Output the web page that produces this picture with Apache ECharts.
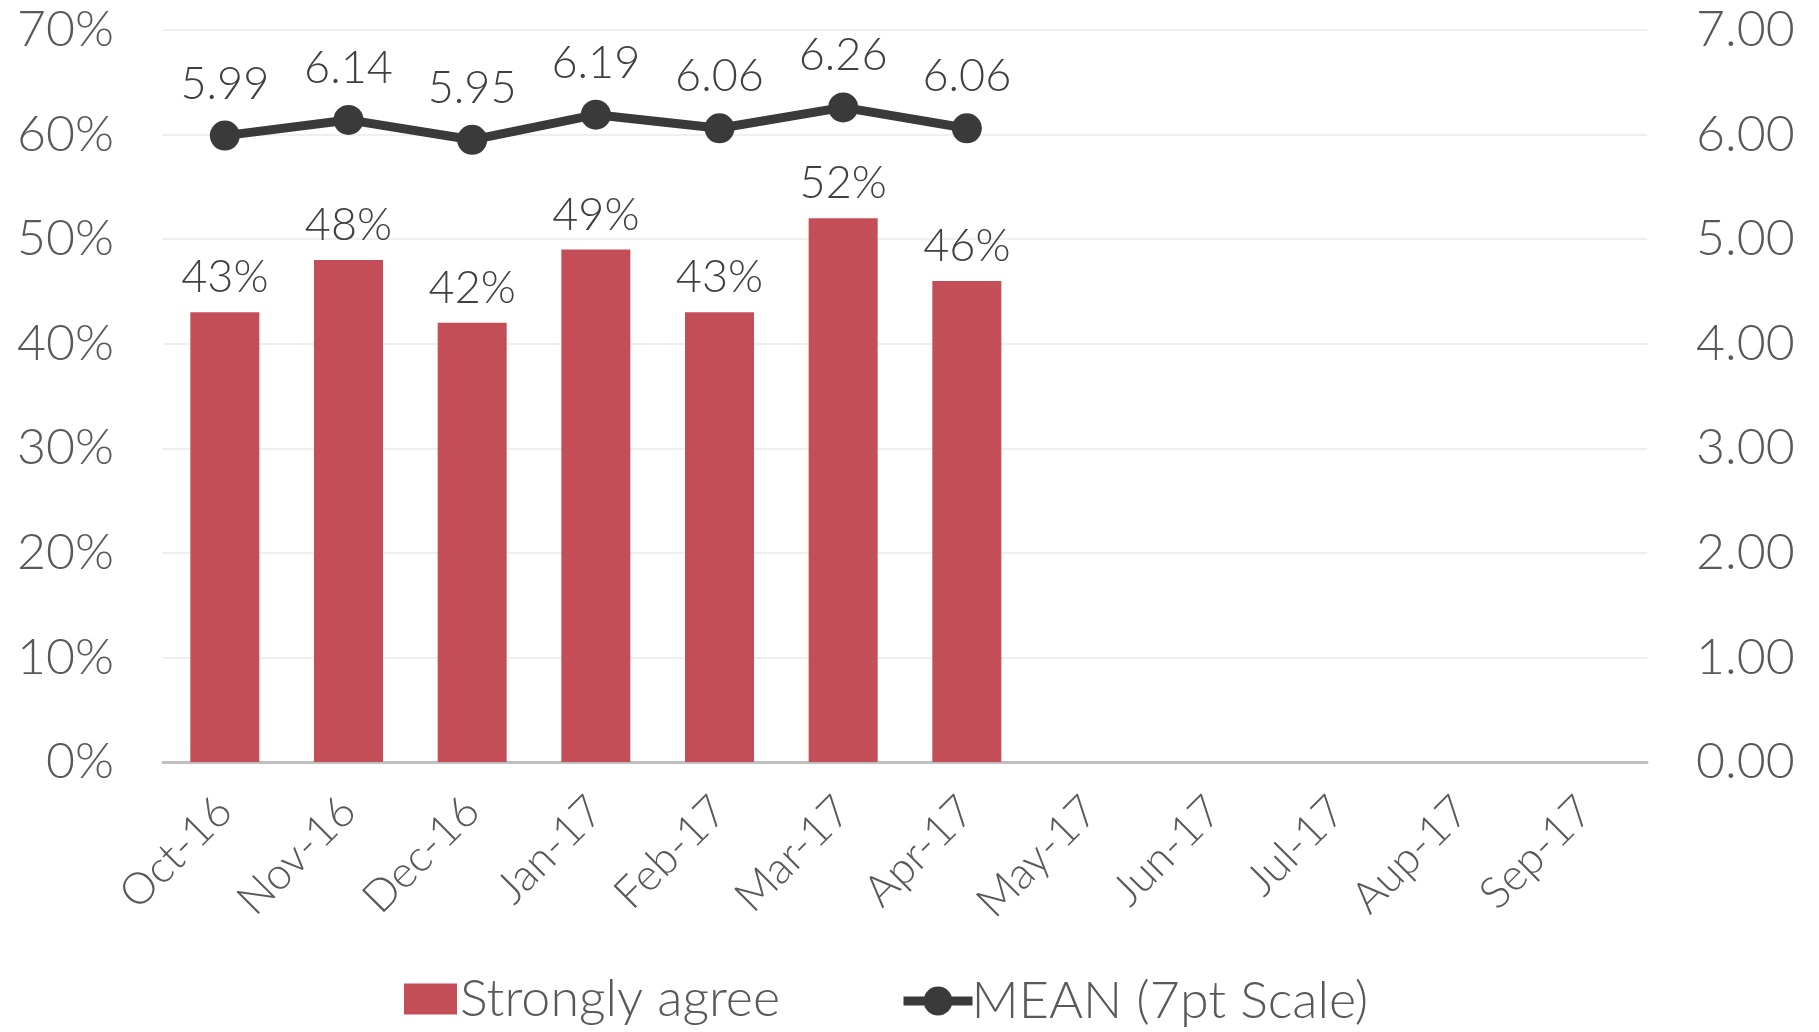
<!DOCTYPE html>
<html>
<head>
<meta charset="utf-8">
<script src="https://cdn.jsdelivr.net/npm/echarts@6/dist/echarts.min.js"></script>
<style>
  html, body { margin: 0; padding: 0; background: #ffffff; }
  #chart { width: 1819px; height: 1032px; }
</style>
</head>
<body>
<div id="chart"></div>
<script>
// Survey months (Oct-16 to Sep-17)
const months = ['Oct-16', 'Nov-16', 'Dec-16', 'Jan-17', 'Feb-17', 'Mar-17',
                'Apr-17', 'May-17', 'Jun-17', 'Jul-17', 'Aup-17', 'Sep-17'];
// Share answering "Strongly agree", in percent
const stronglyAgree = [43, 48, 42, 49, 43, 52, 46];
// Mean score on the 7-point scale
const meanScore = [5.99, 6.14, 5.95, 6.19, 6.06, 6.26, 6.06];

const FONT = 'Lato, "Open Sans", sans-serif';
const WEIGHT = 300;
const BAR_COLOR = '#c44e58';
const LINE_COLOR = '#3a3a3a';
const chart = echarts.init(document.getElementById('chart'));

const legendText = { fontFamily: FONT, fontWeight: WEIGHT, fontSize: 52, color: '#595959' };

chart.setOption({
  backgroundColor: '#ffffff',
  animation: false,
  textStyle: { fontFamily: FONT, fontWeight: WEIGHT },
  grid: { left: 163, right: 172, top: 30, bottom: 270 },
  legend: [
    {
      left: 399,
      bottom: 2,
      itemWidth: 53,
      itemHeight: 31,
      itemGap: 0,
      textStyle: Object.assign({ width: 374, padding: [0, 0, 0, -2] }, legendText),
      data: [{ name: 'Strongly agree', icon: 'rect', itemStyle: { color: BAR_COLOR } }]
    },
    {
      left: 894,
      bottom: 0,
      itemWidth: 69,
      itemHeight: 36,
      itemGap: 0,
      textStyle: Object.assign({ width: 445, padding: [0, 0, 0, -6] }, legendText),
      lineStyle: { width: 9, color: LINE_COLOR },
      data: [{ name: 'MEAN (7pt Scale)' }]
    }
  ],
  xAxis: {
    type: 'category',
    data: months,
    axisLine: { lineStyle: { color: '#bfbfbf', width: 3 } },
    axisTick: { show: false },
    axisLabel: {
      rotate: 45,
      interval: 0,
      margin: 42,
      fontSize: 44,
      color: '#595959',
      fontFamily: FONT,
      fontWeight: WEIGHT
    }
  },
  yAxis: [
    {
      type: 'value',
      min: 0,
      max: 70,
      interval: 10,
      axisLabel: { formatter: '{value}%', fontSize: 50, color: '#595959', margin: 49, fontFamily: FONT, fontWeight: WEIGHT },
      splitLine: { lineStyle: { color: '#efefef', width: 2 } },
      axisLine: { show: false },
      axisTick: { show: false }
    },
    {
      type: 'value',
      min: 0,
      max: 7,
      interval: 1,
      position: 'right',
      axisLabel: {
        formatter: v => v.toFixed(2),
        fontSize: 50, color: '#595959', margin: 49, fontFamily: FONT, fontWeight: WEIGHT
      },
      splitLine: { show: false },
      axisLine: { show: false },
      axisTick: { show: false }
    }
  ],
  series: [
    {
      name: 'Strongly agree',
      type: 'bar',
      data: stronglyAgree,
      yAxisIndex: 0,
      barWidth: 69,
      itemStyle: { color: BAR_COLOR },
      label: {
        show: true,
        position: 'top',
        distance: 12,
        formatter: p => p.value + '%',
        fontSize: 45,
        color: '#404040',
        fontFamily: FONT,
        fontWeight: WEIGHT
      }
    },
    {
      name: 'MEAN (7pt Scale)',
      type: 'line',
      data: meanScore,
      yAxisIndex: 1,
      symbol: 'circle',
      symbolSize: 30,
      lineStyle: { color: LINE_COLOR, width: 9 },
      itemStyle: { color: LINE_COLOR },
      label: {
        show: true,
        position: 'top',
        distance: 14,
        formatter: p => p.value.toFixed(2),
        fontSize: 45,
        color: '#404040',
        fontFamily: FONT,
        fontWeight: WEIGHT
      }
    }
  ]
});
</script>
</body>
</html>
